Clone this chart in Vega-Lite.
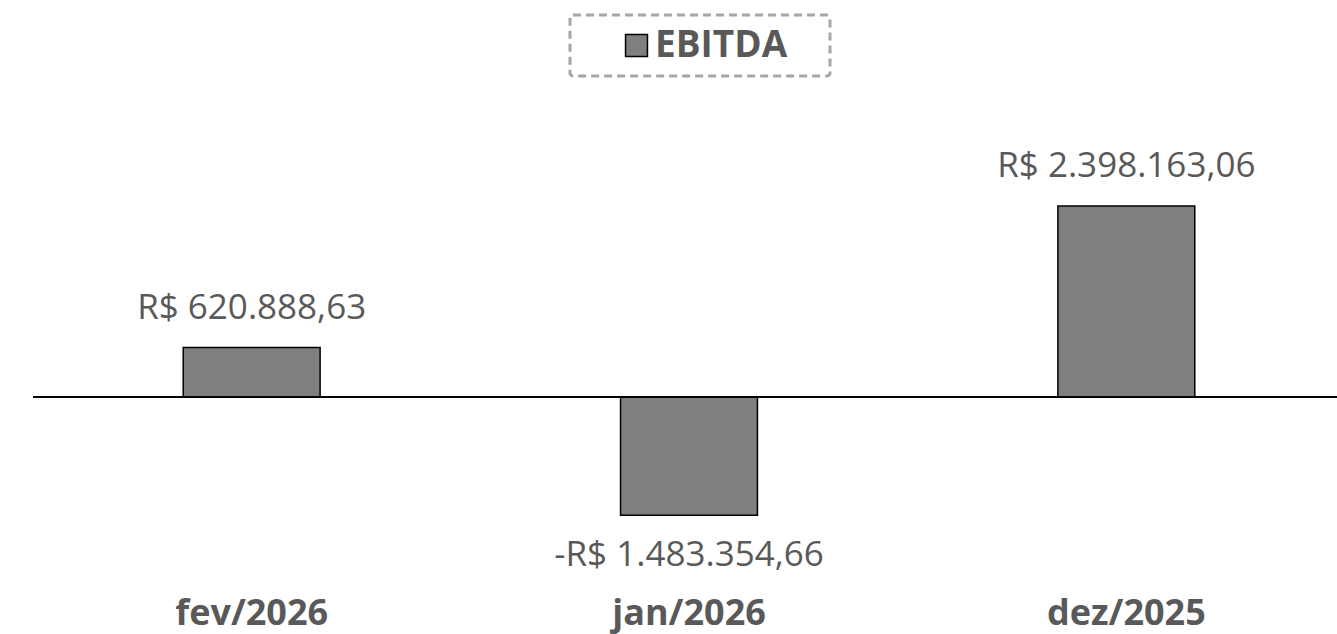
{
  "$schema": "https://vega.github.io/schema/vega-lite/v6.json",
  "autosize": "none",
  "width": 1312,
  "height": 590,
  "padding": {"left": 33, "top": 0, "right": 0, "bottom": 44},
  "background": "white",
  "config": {
    "view": {"stroke": null},
    "font": "Open Sans",
    "legend": {"strokeDash": [8, 5], "strokeWidth": 3}
  },
  "data": {
    "values": [
      {"mes": "fev/2026", "valor": 620888.63, "rotulo": "R$ 620.888,63", "serie": "EBITDA"},
      {"mes": "jan/2026", "valor": -1483354.66, "rotulo": "-R$ 1.483.354,66", "serie": "EBITDA"},
      {"mes": "dez/2025", "valor": 2398163.06, "rotulo": "R$ 2.398.163,06", "serie": "EBITDA"}
    ]
  },
  "layer": [
    {
      "mark": {"type": "bar", "stroke": "black", "strokeWidth": 1.5},
      "encoding": {
        "x": {
          "field": "mes",
          "type": "nominal",
          "sort": ["fev/2026", "jan/2026", "dez/2025"],
          "scale": {"paddingInner": 0.687, "paddingOuter": 0.3435},
          "axis": {
            "title": null,
            "domain": false,
            "ticks": false,
            "labelAngle": 0,
            "labelFontSize": 36,
            "labelFontWeight": "bold",
            "labelColor": "#595959",
            "labelFont": "Open Sans",
            "labelBaseline": "middle",
            "labelPadding": 23
          }
        },
        "y": {
          "field": "valor",
          "type": "quantitative",
          "scale": {"domain": [-2423000, 4985000], "nice": false, "zero": false},
          "axis": null
        },
        "color": {
          "field": "serie",
          "type": "nominal",
          "scale": {"range": ["#7f7f7f"]},
          "legend": {
            "title": null,
            "orient": "none",
            "legendX": 537,
            "legendY": 15,
            "direction": "horizontal",
            "padding": 12,
            "symbolType": "square",
            "symbolSize": 480,
            "symbolStrokeColor": "black",
            "symbolStrokeWidth": 1.5,
            "symbolFillColor": "#7f7f7f",
            "symbolOffset": 36,
            "labelFontSize": 37,
            "labelFontWeight": "bold",
            "labelColor": "#595959",
            "labelFont": "Open Sans",
            "labelOffset": 0,
            "labelLimit": 400,
            "labelExpr": "datum.label + '\u2002\u2009\u2009\u200b'",
            "strokeColor": "#a6a6a6",
            "cornerRadius": 3
          }
        }
      }
    },
    {
      "mark": {"type": "rule", "color": "black", "strokeWidth": 1.5},
      "encoding": {"y": {"datum": 0}}
    },
    {
      "transform": [{"filter": "datum.valor > 0"}],
      "mark": {"type": "text", "baseline": "middle", "dy": -40, "fontSize": 35, "color": "#595959"},
      "encoding": {
        "x": {"field": "mes", "type": "nominal", "sort": ["fev/2026", "jan/2026", "dez/2025"]},
        "y": {"field": "valor", "type": "quantitative"},
        "text": {"field": "rotulo"}
      }
    },
    {
      "transform": [{"filter": "datum.valor < 0"}],
      "mark": {"type": "text", "baseline": "middle", "dy": 40, "fontSize": 35, "color": "#595959"},
      "encoding": {
        "x": {"field": "mes", "type": "nominal", "sort": ["fev/2026", "jan/2026", "dez/2025"]},
        "y": {"field": "valor", "type": "quantitative"},
        "text": {"field": "rotulo"}
      }
    }
  ]
}
